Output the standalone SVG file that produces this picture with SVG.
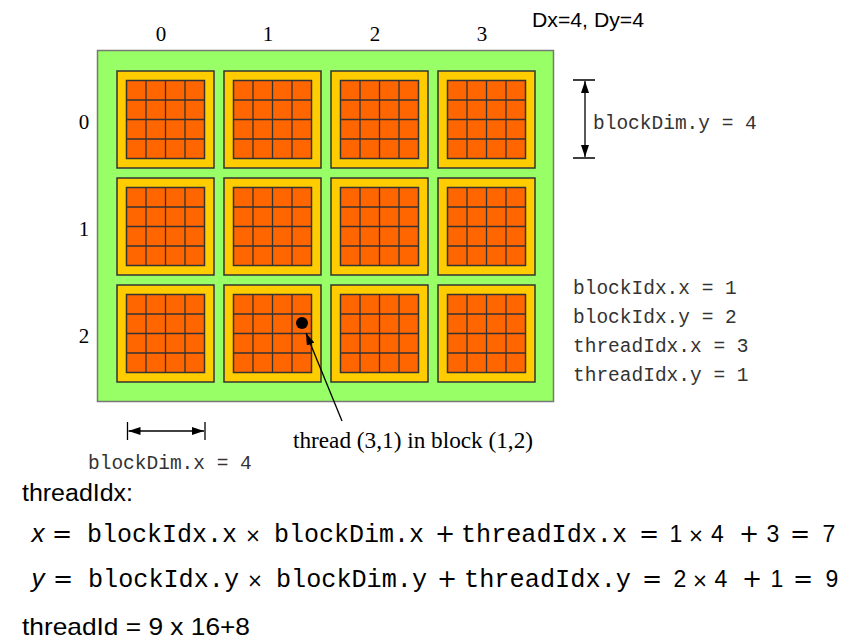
<svg xmlns="http://www.w3.org/2000/svg" xmlns:xlink="http://www.w3.org/1999/xlink" width="852" height="642" viewBox="0 0 852 642">
<style>
.lbl{font-family:"Liberation Serif","Times New Roman",serif;font-size:21px;fill:#000;text-anchor:middle}
.mono{font-family:"Liberation Mono","Courier New",monospace;font-size:19.5px;fill:#333}
.sans{font-family:"Liberation Sans",Arial,sans-serif;fill:#000}
.tt{font-family:"Liberation Mono","Courier New",monospace;font-size:25px;fill:#000}
.op{font-family:"DejaVu Sans","Liberation Sans",sans-serif;font-size:24px;fill:#000;text-anchor:middle}
.x{font-family:"DejaVu Sans","Liberation Sans",sans-serif;font-size:19px;fill:#000;text-anchor:middle}
.dg{font-family:"Liberation Sans",Arial,sans-serif;font-size:23px;fill:#000;text-anchor:middle}
.mi{font-family:"Liberation Sans",Arial,sans-serif;font-size:26px;font-style:italic;fill:#000;text-anchor:middle}
.ln{stroke:#000;stroke-width:1.3;fill:none}
</style>
<defs>
<g id="blk">
<rect x="0" y="0" width="97" height="97" fill="#FFCC00" stroke="#333" stroke-width="1.5"/>
<rect x="9.5" y="9.5" width="78" height="78" fill="#FF6600" stroke="#333" stroke-width="1.5"/>
<path d="M29 9.5V87.5M48.5 9.5V87.5M68 9.5V87.5M9.5 29H87.5M9.5 48.5H87.5M9.5 68H87.5" stroke="#333" stroke-width="1.3"/>
</g>
<marker id="ah" viewBox="0 0 12 8" refX="12" refY="4" markerWidth="12" markerHeight="8" markerUnits="userSpaceOnUse" orient="auto-start-reverse">
<path d="M0 0L12 4L0 8Z" fill="#000"/>
</marker>
</defs>
<g id="grid">
<rect x="97.5" y="50.5" width="456" height="351" fill="#99FF66" stroke="#777" stroke-width="1.5"/>
</g>
<g id="block-0-0"><use xlink:href="#blk" transform="translate(117,71)"/></g>
<g id="block-1-0"><use xlink:href="#blk" transform="translate(224,71)"/></g>
<g id="block-2-0"><use xlink:href="#blk" transform="translate(331,71)"/></g>
<g id="block-3-0"><use xlink:href="#blk" transform="translate(438,71)"/></g>
<g id="block-0-1"><use xlink:href="#blk" transform="translate(117,178)"/></g>
<g id="block-1-1"><use xlink:href="#blk" transform="translate(224,178)"/></g>
<g id="block-2-1"><use xlink:href="#blk" transform="translate(331,178)"/></g>
<g id="block-3-1"><use xlink:href="#blk" transform="translate(438,178)"/></g>
<g id="block-0-2"><use xlink:href="#blk" transform="translate(117,285)"/></g>
<g id="block-1-2"><use xlink:href="#blk" transform="translate(224,285)"/></g>
<g id="block-2-2"><use xlink:href="#blk" transform="translate(331,285)"/></g>
<g id="block-3-2"><use xlink:href="#blk" transform="translate(438,285)"/></g>
<g id="thread-dot"><circle cx="302" cy="323" r="6" fill="#000"/></g>
<g id="labels">
<text class="lbl" x="161" y="41">0</text>
<text class="lbl" x="268" y="41">1</text>
<text class="lbl" x="375" y="41">2</text>
<text class="lbl" x="482" y="41">3</text>
<text class="lbl" x="84" y="129">0</text>
<text class="lbl" x="84" y="236">1</text>
<text class="lbl" x="84" y="343">2</text>
<text class="sans" x="532" y="27" font-size="20" textLength="112" lengthAdjust="spacingAndGlyphs">Dx=4, Dy=4</text>
<text class="mono" x="593" y="129">blockDim.y = 4</text>
<text class="mono" x="573" y="294">blockIdx.x = 1</text>
<text class="mono" x="573" y="323">blockIdx.y = 2</text>
<text class="mono" x="573" y="352">threadIdx.x = 3</text>
<text class="mono" x="573" y="381">threadIdx.y = 1</text>
<text class="mono" x="88" y="469">blockDim.x = 4</text>
<text x="293" y="448" font-family="Liberation Serif,Times New Roman,serif" font-size="23" fill="#000" textLength="240" lengthAdjust="spacingAndGlyphs">thread (3,1) in block (1,2)</text>
</g>
<g id="connectors">
<path class="ln" d="M573 80H595M573 158H595"/>
<path class="ln" d="M585 81V157" marker-start="url(#ah)" marker-end="url(#ah)"/>
<path class="ln" d="M127.5 422V440M205 422V440"/>
<path class="ln" d="M128.5 431H204" marker-start="url(#ah)" marker-end="url(#ah)"/>
<path class="ln" d="M342 421L306 333" marker-end="url(#ah)"/>
</g>
<g id="equations">
<text class="sans" x="22" y="501" font-size="23" textLength="111" lengthAdjust="spacingAndGlyphs">threadIdx:</text>
<text class="mi" x="38" y="542">x</text>
<text class="op" x="62" y="542">=</text>
<text class="tt" x="87" y="542" textLength="150" lengthAdjust="spacingAndGlyphs">blockIdx.x</text>
<text class="x" x="253" y="542">×</text>
<text class="tt" x="274" y="542" textLength="150" lengthAdjust="spacingAndGlyphs">blockDim.x</text>
<text class="op" x="445" y="542">+</text>
<text class="tt" x="461" y="542" textLength="166" lengthAdjust="spacingAndGlyphs">threadIdx.x</text>
<text class="op" x="649" y="542">=</text>
<text class="dg" x="676" y="542">1</text>
<text class="x" x="696" y="542">×</text>
<text class="dg" x="717.5" y="542">4</text>
<text class="op" x="749" y="542">+</text>
<text class="dg" x="773" y="542">3</text>
<text class="op" x="800" y="542">=</text>
<text class="dg" x="829" y="542">7</text>
<text class="mi" x="38" y="587">y</text>
<text class="op" x="63" y="587">=</text>
<text class="tt" x="88" y="587" textLength="151" lengthAdjust="spacingAndGlyphs">blockIdx.y</text>
<text class="x" x="255" y="587">×</text>
<text class="tt" x="276" y="587" textLength="151" lengthAdjust="spacingAndGlyphs">blockDim.y</text>
<text class="op" x="447" y="587">+</text>
<text class="tt" x="464" y="587" textLength="167" lengthAdjust="spacingAndGlyphs">threadIdx.y</text>
<text class="op" x="652" y="587">=</text>
<text class="dg" x="680" y="587">2</text>
<text class="x" x="700" y="587">×</text>
<text class="dg" x="721" y="587">4</text>
<text class="op" x="752" y="587">+</text>
<text class="dg" x="777" y="587">1</text>
<text class="op" x="803" y="587">=</text>
<text class="dg" x="832" y="587">9</text>
<text class="sans" x="22" y="635" font-size="24" textLength="228" lengthAdjust="spacingAndGlyphs">threadId = 9 x 16+8</text>
</g>
</svg>
